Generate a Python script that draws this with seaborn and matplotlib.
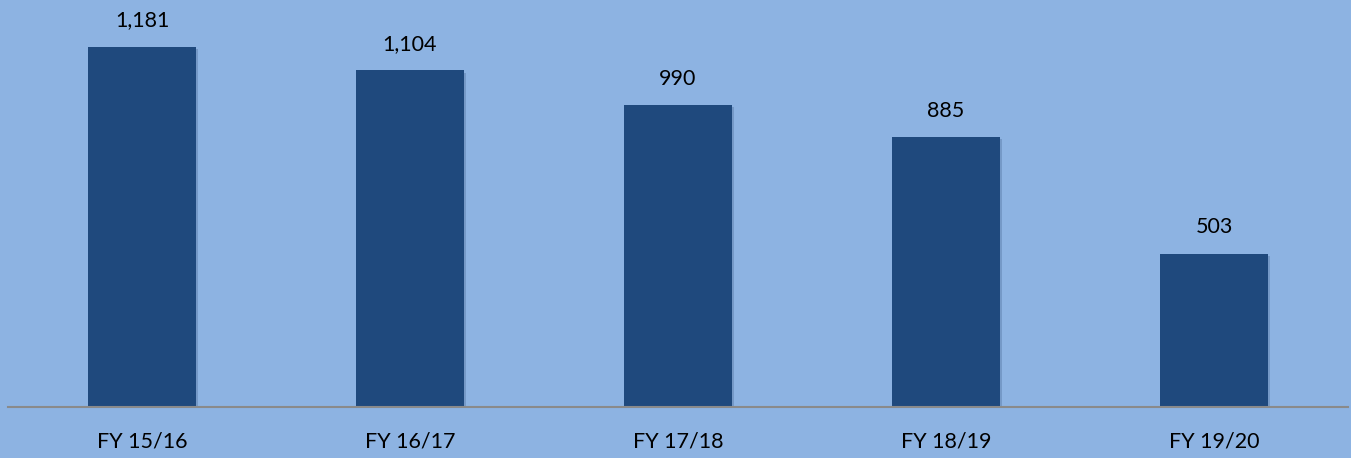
import matplotlib
matplotlib.use("Agg")
import matplotlib.pyplot as plt
import matplotlib.patheffects as pe
import seaborn as sns
import pandas as pd

# Chart data
years = ["FY 15/16", "FY 16/17", "FY 17/18", "FY 18/19", "FY 19/20"]
values = [1181, 1104, 990, 885, 503]

bg_color = "#8db3e2"
bar_color = "#1f497d"

sns.set_theme(style="white")
plt.rcParams['font.family'] = ['Lato', 'DejaVu Sans']

df = pd.DataFrame({"year": years, "value": values})

fig = plt.figure(figsize=(13.51, 4.58), dpi=100)
fig.patch.set_facecolor(bg_color)
ax = fig.add_axes([8 / 1351, 51 / 458, 1340 / 1351, 407 / 458])
ax.set_facecolor(bg_color)

sns.barplot(data=df, x="year", y="value", color=bar_color, width=0.4,
            saturation=1, linewidth=0, edgecolor="none", ax=ax)

# soft shadow like the original office chart
for bar in ax.patches:
    bar.set_path_effects([pe.SimplePatchShadow(offset=(1.5, -1.5), shadow_rgbFace="#4a6a95", alpha=0.35),
                          pe.Normal()])

# value labels above bars
for i, v in enumerate(values):
    ax.annotate(f"{v:,}", (i, v), xytext=(0, 19), textcoords="offset points",
                ha="center", va="center", fontsize=15.5, color="black")

ax.set_ylim(0, 1335)
ax.set_xlim(-0.5, len(years) - 0.5)
ax.set_xlabel("")
ax.set_ylabel("")
ax.set_yticks([])
ax.tick_params(axis="x", length=0, labelsize=15.5, pad=18, colors="black")
for side in ["top", "right", "left"]:
    ax.spines[side].set_visible(False)
ax.spines["bottom"].set_color("#8a8a8a")
ax.spines["bottom"].set_linewidth(1.5)
ax.spines["bottom"].set_zorder(5)

fig.savefig("out.png", dpi=100, facecolor=bg_color)
